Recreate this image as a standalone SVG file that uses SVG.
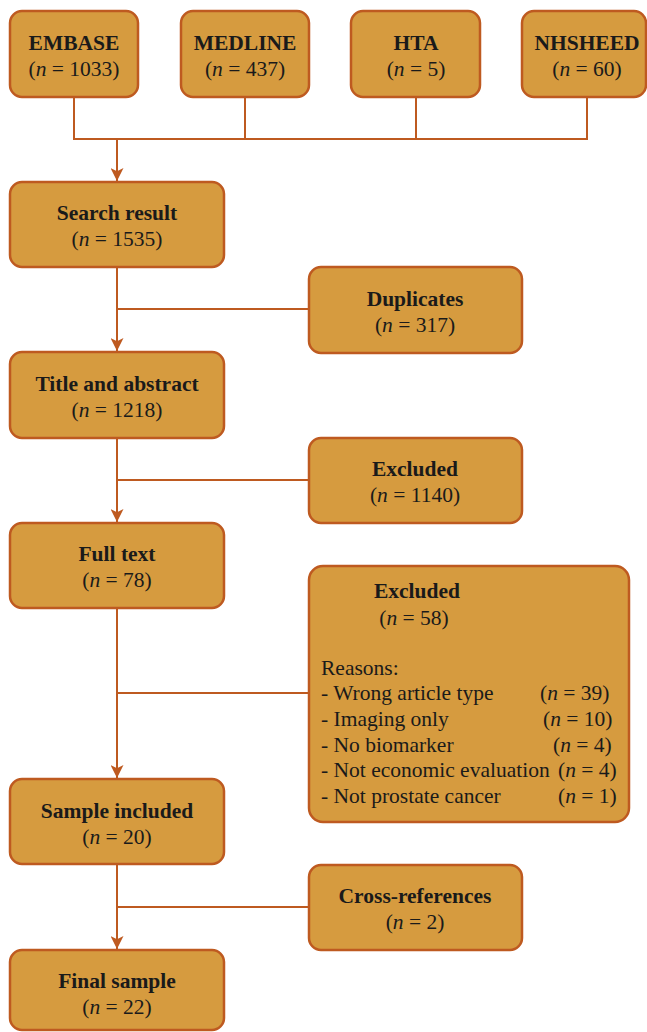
<svg xmlns="http://www.w3.org/2000/svg" width="647" height="1032" viewBox="0 0 647 1032">
<defs>
<style>
.box{fill:#D69B3F;stroke:#BE5A20;stroke-width:2.5}
.ln{fill:none;stroke:#BE5A20;stroke-width:2}
text{font-family:"Liberation Serif","Times New Roman",serif;font-size:21.5px;fill:#1a1a1a}
.b{font-weight:bold;text-anchor:middle}
.c{text-anchor:middle}
.i{font-style:italic}
</style>
<marker id="ah" viewBox="0 0 12 12" refX="12" refY="6" markerWidth="13" markerHeight="13" markerUnits="userSpaceOnUse" orient="auto">
<path d="M0,0 L12,6 L0,12 L3,6 z" fill="#BE5A20"/>
</marker>
</defs>
<g id="connectors">
<path class="ln" d="M74,97 V139 H587 V97 M245,97 V139 M416,97 V139"/>
<path class="ln" d="M117,139 V181" marker-end="url(#ah)"/>
<path class="ln" d="M117,267 V351" marker-end="url(#ah)"/>
<path class="ln" d="M117,309 H309"/>
<path class="ln" d="M117,438 V522" marker-end="url(#ah)"/>
<path class="ln" d="M117,480 H309"/>
<path class="ln" d="M117,608 V778" marker-end="url(#ah)"/>
<path class="ln" d="M117,693 H309"/>
<path class="ln" d="M117,864 V949" marker-end="url(#ah)"/>
<path class="ln" d="M117,907 H309"/>
</g>
<g id="embase"><rect class="box" x="10" y="11" width="128" height="86" rx="12"/><text class="b" x="74" y="50">EMBASE</text><text class="c" x="74" y="76">(<tspan class="i">n</tspan> = 1033)</text></g>
<g id="medline"><rect class="box" x="181" y="11" width="128" height="86" rx="12"/><text class="b" x="245" y="50">MEDLINE</text><text class="c" x="245" y="76">(<tspan class="i">n</tspan> = 437)</text></g>
<g id="hta"><rect class="box" x="351" y="11" width="129" height="86" rx="12"/><text class="b" x="416" y="50">HTA</text><text class="c" x="416" y="76">(<tspan class="i">n</tspan> = 5)</text></g>
<g id="nhsheed"><rect class="box" x="522" y="11" width="124" height="86" rx="12"/><text class="b" x="587" y="50">NHSHEED</text><text class="c" x="587" y="76">(<tspan class="i">n</tspan> = 60)</text></g>
<g id="search"><rect class="box" x="10" y="182" width="214" height="85" rx="12"/><text class="b" x="117" y="220">Search result</text><text class="c" x="117" y="246">(<tspan class="i">n</tspan> = 1535)</text></g>
<g id="duplicates"><rect class="box" x="309" y="267" width="213" height="86" rx="12"/><text class="b" x="415" y="306">Duplicates</text><text class="c" x="415" y="332">(<tspan class="i">n</tspan> = 317)</text></g>
<g id="title"><rect class="box" x="10" y="352" width="214" height="86" rx="12"/><text class="b" x="117" y="391">Title and abstract</text><text class="c" x="117" y="417">(<tspan class="i">n</tspan> = 1218)</text></g>
<g id="excluded1"><rect class="box" x="309" y="438" width="213" height="85" rx="12"/><text class="b" x="415" y="476">Excluded</text><text class="c" x="415" y="502">(<tspan class="i">n</tspan> = 1140)</text></g>
<g id="fulltext"><rect class="box" x="10" y="523" width="214" height="85" rx="12"/><text class="b" x="117" y="561">Full text</text><text class="c" x="117" y="587">(<tspan class="i">n</tspan> = 78)</text></g>
<g id="excluded2"><rect class="box" x="309" y="566" width="320" height="256" rx="14"/>
<text class="b" x="417" y="598">Excluded</text>
<text class="c" x="414" y="625">(<tspan class="i">n</tspan> = 58)</text>
<text x="321" y="675">Reasons:</text>
<text x="321" y="700">- Wrong article type</text><text x="540" y="700">(<tspan class="i">n</tspan> = 39)</text>
<text x="321" y="726">- Imaging only</text><text x="543" y="726">(<tspan class="i">n</tspan> = 10)</text>
<text x="321" y="752">- No biomarker</text><text x="553" y="752">(<tspan class="i">n</tspan> = 4)</text>
<text x="321" y="777">- Not economic evaluation</text><text x="558" y="777">(<tspan class="i">n</tspan> = 4)</text>
<text x="321" y="803">- Not prostate cancer</text><text x="558" y="803">(<tspan class="i">n</tspan> = 1)</text>
</g>
<g id="sample"><rect class="box" x="10" y="779" width="214" height="85" rx="12"/><text class="b" x="117" y="818">Sample included</text><text class="c" x="117" y="844">(<tspan class="i">n</tspan> = 20)</text></g>
<g id="crossref"><rect class="box" x="309" y="865" width="213" height="85" rx="12"/><text class="b" x="415" y="903">Cross-references</text><text class="c" x="415" y="929">(<tspan class="i">n</tspan> = 2)</text></g>
<g id="final"><rect class="box" x="10" y="950" width="214" height="80" rx="12"/><text class="b" x="117" y="988">Final sample</text><text class="c" x="117" y="1014">(<tspan class="i">n</tspan> = 22)</text></g>
</svg>
